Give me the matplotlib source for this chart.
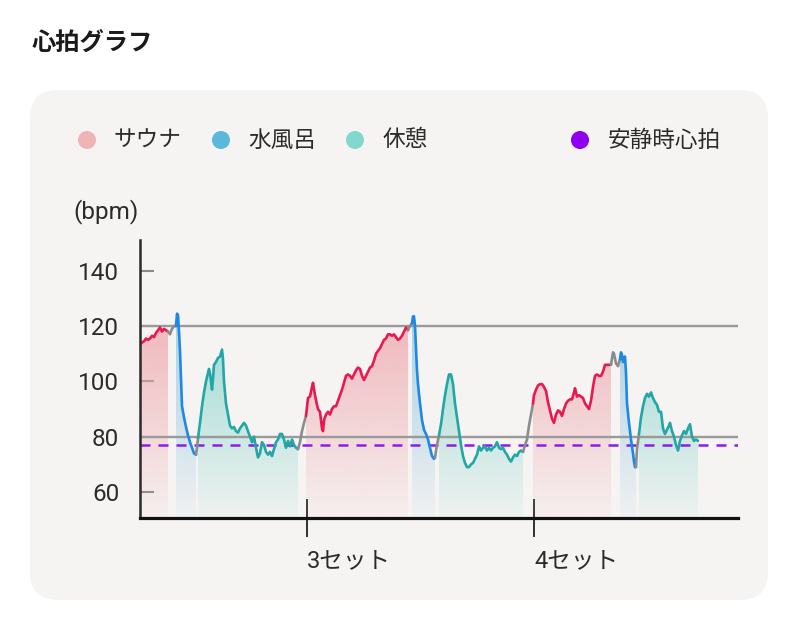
import matplotlib
matplotlib.use("Agg")
import matplotlib.pyplot as plt
from matplotlib.patches import FancyBboxPatch, Circle
import numpy as np

plt.rcParams['font.family'] = ['Roboto', 'Noto Sans CJK JP', 'DejaVu Sans']

# ---------------- data ----------------
title = "心拍グラフ"
legend_labels = ["サウナ", "水風呂", "休憩"]
rest_label = "安静時心拍"
y_unit = "(bpm)"
set_ticks_t = [167, 394]
set_labels = ["3セット", "4セット"]
y_ticks = [60, 80, 100, 120, 140]
ref_lines = [80, 120]
resting_hr = 77

# elapsed time (arbitrary units) and heart rate (bpm)
t = ([0, 2, 4, 6, 8, 10, 12, 14, 16, 18, 20, 22, 24, 26, 28]
     + [30, 32, 34, 36]
     + [37, 38, 39, 40, 41, 42, 44, 46, 48, 50, 52, 54, 56]
     + [57, 58]
     + [60, 62, 64, 66, 68, 69, 70, 72, 73, 74, 76, 78, 80, 82, 83, 84, 86, 88, 90, 92,
        94, 96, 98, 100, 102, 104, 106, 108, 110, 112, 114, 116, 118, 120, 122, 124, 126,
        128, 130, 132, 134, 136, 138, 140, 142, 144, 146, 148, 150, 152, 154, 156, 158]
     + [160, 162, 164, 166]
     + [168, 170, 172, 173, 175, 177, 178, 180, 182, 183]
     + list(range(184, 269, 2))
     + [270, 272]
     + [273, 274, 275, 276, 277, 278, 280, 282, 284, 286, 288, 290, 292, 294, 295]
     + [297, 299]
     + list(range(301, 384, 2))
     + [385, 387, 389, 391, 393]
     + list(range(394, 435, 2)) + list(range(435, 472, 2))
     + [473, 474, 476, 478, 480]
     + [481, 482, 483, 484, 485, 486, 487, 489, 491, 493, 494, 495, 496]
     + [497, 499]
     + list(range(501, 530, 2)) + [530] + list(range(532, 559, 2)))

hr = ([113.5, 114, 114.5, 115.5, 115, 115.5, 116.5, 116, 117.5, 118.5, 119.5, 118, 119, 118.5, 118]
      + [117, 119, 120, 120]
      + [124.5, 124, 118, 111, 101, 91, 87, 83.5, 80.5, 78, 76, 74, 73.5]
      + [76, 79.5]
      + [85, 91, 96, 100, 103, 104.5, 103, 97, 101, 106, 107, 108.5, 109, 111.5, 108,
         100, 92, 88, 84, 83, 83.5, 82, 81.5, 83, 84, 85, 84, 82, 80, 78, 80, 76, 72.5, 74, 78,
         77, 74.5, 73.5, 74.5, 73, 75.5, 78, 79, 81, 81, 79, 76, 78.5, 76.5, 79, 77, 76, 75.5]
      + [78, 82, 85, 87.5]
      + [94, 94.5, 98, 99.5, 95, 91.5, 90, 89, 83, 82]
      + [86, 88, 89, 88, 90, 91, 91, 93, 95, 97, 99.5, 102, 102.5, 102, 101, 102.5, 104, 105,
         104.5, 102, 100.5, 102, 103.5, 105, 105.5, 107.5, 110, 111, 112, 113.5, 115, 115.5,
         117, 117, 116.5, 117, 116, 115, 115.5, 116.5, 118, 119.5, 118.5]
      + [120, 121]
      + [123.5, 123.5, 120, 112, 104, 99, 92, 86, 82.5, 81, 79, 76, 73, 72, 72.5]
      + [77, 80.5]
      + [84.5, 90, 95, 99, 102.5, 102.5, 99, 92, 87, 82, 77, 73, 70.5, 69, 69, 70, 70.5, 72,
         73.5, 76.5, 75, 76, 76.5, 75, 76, 75, 76, 76.5, 78, 76, 75.5, 76, 74.5, 73.5, 72, 71,
         72.5, 73.5, 73, 74.5, 75, 74.5]
      + [77, 79, 84, 88, 92]
      + [95, 97, 98.5, 99, 99, 98, 96.5, 92.5, 89.5, 86.5, 85, 88, 89.5, 89, 87.5, 90, 92, 93,
         93.5, 93.5, 96]
      + [97.5, 94.5, 95, 94.5, 94, 92, 91, 90, 93, 98, 102, 102.5, 102, 102, 103.5, 106, 106,
         106, 106]
      + [110.5, 110, 106.5, 105.5, 108]
      + [110.5, 109.5, 107, 108.5, 109, 103, 92, 85, 79, 74, 71, 69, 69]
      + [75.5, 81]
      + [87, 91, 94, 95.5, 94.5, 96, 94, 92.5, 91.5, 89, 89, 83, 81, 82.5, 84]
      + [85]
      + [82, 80, 77, 75, 78.5, 80.5, 82, 81, 83, 84.5, 80, 78.5, 79, 78.5])

phase_edges = [0, 28, 36, 56, 58, 158, 166, 268, 272, 295, 299, 383, 393, 471, 480, 496, 499, 558]
phase_kinds = ["sauna", "move", "cold", "move", "rest", "move",
               "sauna", "move", "cold", "move", "rest", "move",
               "sauna", "move", "cold", "move", "rest"]

# ---------------- style ----------------
line_colors = {"sauna": "#e8194f", "cold": "#1e88e5", "rest": "#22a6a6", "move": "#8c8c8c"}
fill_colors = {"sauna": "#eea4aa", "cold": "#8fc6df", "rest": "#7ed2c8"}
dot_colors = ["#efb4b4", "#5ab8dc", "#80d8d0"]
rest_dot_color = "#9000f0"
card_color = "#f6f4f3"
text_color = "#2b2b2b"

t = np.array(t, dtype=float)
hr = np.array(hr, dtype=float)

fig = plt.figure(figsize=(8, 6.38), dpi=100)
fig.patch.set_facecolor("white")

# background overlay in pixel coordinates
bg = fig.add_axes([0, 0, 1, 1], zorder=0)
bg.set_xlim(0, 800)
bg.set_ylim(638, 0)
bg.axis("off")
bg.add_patch(FancyBboxPatch((30, 90), 738, 510, boxstyle="round,pad=0,rounding_size=28",
                            facecolor=card_color, edgecolor="none"))
bg.text(32, 43, title, fontsize=17.5, fontweight="bold", color="#1a1a1a",
        va="center", ha="left", family=['Noto Sans CJK JP', 'DejaVu Sans'])

dot_x = [87, 221, 355]
txt_x = [113, 248, 383]
for dx, tx, c, lab in zip(dot_x, txt_x, dot_colors, legend_labels):
    bg.add_patch(Circle((dx, 140), 9, facecolor=c, edgecolor="none"))
    bg.text(tx, 140, lab, fontsize=16.3, color=text_color, va="center", ha="left")
bg.add_patch(Circle((580, 140), 9, facecolor=rest_dot_color, edgecolor="none"))
bg.text(608, 140, rest_label, fontsize=16.3, color=text_color, va="center", ha="left")
bg.text(73, 212, y_unit, fontsize=17.5, color=text_color, va="center", ha="left")

# main axes
ax = fig.add_axes([139.5 / 800, 1 - 518 / 638, (738 - 139.5) / 800, (518 - 239.5) / 638], zorder=1)
ax.set_facecolor("none")
y0, y1 = 50.6, 151.3
x0, x1 = -0.5, 598

grad_top = 125.0
for i, kind in enumerate(phase_kinds):
    a, b = phase_edges[i], phase_edges[i + 1]
    m = (t >= a) & (t <= b)
    ts, hs = t[m], hr[m]
    if kind != "move":
        poly = ax.fill_between(ts, hs, y0, facecolor="none", edgecolor="none", lw=0)
        rgb = matplotlib.colors.to_rgb(fill_colors[kind])
        n = 256
        frac = np.linspace(0, 1, n)
        alpha = 0.06 + (0.78 - 0.06) * frac
        img = np.zeros((n, 1, 4))
        img[:, 0, 0], img[:, 0, 1], img[:, 0, 2] = rgb
        img[:, 0, 3] = alpha
        im = ax.imshow(img, extent=[ts[0], ts[-1], y0, grad_top], origin="lower",
                       aspect="auto", zorder=2, interpolation="bilinear")
        im.set_clip_path(poly.get_paths()[0], transform=ax.transData)
    ax.plot(ts, hs, color=line_colors[kind], lw=1.9, zorder=6,
            solid_joinstyle="round", solid_capstyle="round")

for yv in ref_lines:
    ax.axhline(yv, color="#9a9a9a", lw=1.7, zorder=3)
ax.axhline(resting_hr, color="#8a1ee6", lw=1.8, dashes=(4, 3.2), zorder=5)

ax.set_xlim(x0, x1)
ax.set_ylim(y0, y1)

for s in ["top", "right"]:
    ax.spines[s].set_visible(False)
ax.spines["left"].set_color("#2a2a2a")
ax.spines["left"].set_linewidth(1.8)
ax.spines["bottom"].set_color("#111111")
ax.spines["bottom"].set_linewidth(2.3)
ax.spines["left"].set_zorder(7)
ax.spines["bottom"].set_zorder(7)

ax.set_yticks(y_ticks)
ax.tick_params(axis="y", direction="in", length=10, width=1.5, color="#8a8a8a",
               labelsize=17.5, labelcolor=text_color, pad=14.5)
ax.set_xticks(set_ticks_t, set_labels)
ax.tick_params(axis="x", direction="inout", length=27, width=1.3, color="#222222",
               labelsize=17, labelcolor=text_color, pad=9)
for lab in ax.get_xticklabels():
    lab.set_horizontalalignment("left")

fig.savefig("out.png", dpi=100, facecolor="white")
